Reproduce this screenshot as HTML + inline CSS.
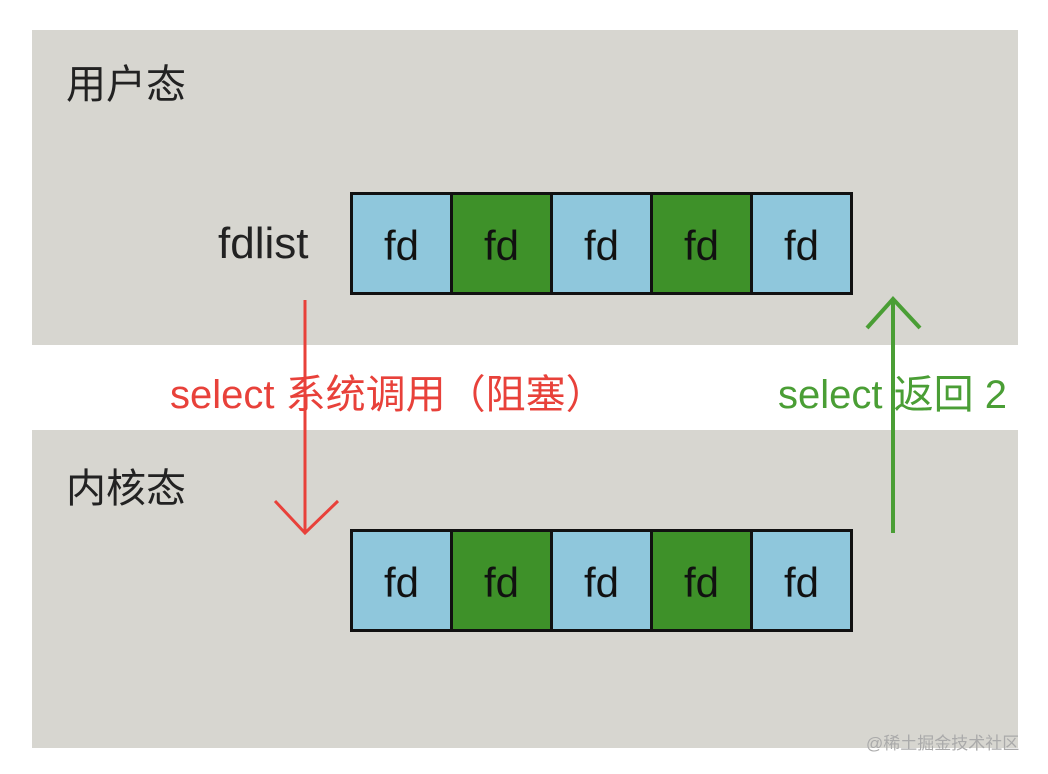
<!DOCTYPE html>
<html><head><meta charset="utf-8"><style>
body{margin:0;width:1048px;height:774px;background:#fff;position:relative;overflow:hidden;font-family:"Liberation Sans","Noto Sans CJK SC",sans-serif}
.p{position:absolute;background:#d7d6d0;left:32px;width:986px}
.t{position:absolute;white-space:nowrap;line-height:1}
.row{position:absolute;left:350px;width:497px;height:97px;display:flex;border:3px solid #111;background:#111;gap:3px}
.row div{flex:1;display:flex;align-items:center;justify-content:center;font-size:42px;color:#111;padding-top:4px}
.b{background:#8fc7dc}.g{background:#3e9129}
</style></head><body>
<div class="p" style="top:30px;height:315px"></div>
<div class="p" style="top:430px;height:318px"></div>
<div class="t" style="left:66px;top:65px;font-size:40px;color:#222">用户态</div>
<div class="t" style="left:66px;top:469px;font-size:40px;color:#222">内核态</div>
<div class="t" style="left:218px;top:222px;font-size:44px;color:#222">fdlist</div>
<div class="row" style="top:192px"><div class="b">fd</div><div class="g">fd</div><div class="b">fd</div><div class="g">fd</div><div class="b">fd</div></div>
<div class="row" style="top:529px"><div class="b">fd</div><div class="g">fd</div><div class="b">fd</div><div class="g">fd</div><div class="b">fd</div></div>
<div class="t" style="left:170px;top:375px;font-size:40px;color:#e8413a">select 系统调用（阻塞）</div>
<div class="t" style="left:778px;top:375px;font-size:40px;color:#4a9e35">select 返回 2</div>
<svg width="1048" height="774" style="position:absolute;left:0;top:0">
<g stroke="#e8413a" stroke-width="3" fill="none"><line x1="305" y1="300" x2="305" y2="533"/><polyline points="275,501 305,533 338,501"/></g>
<g stroke="#4a9e35" stroke-width="4" fill="none"><line x1="893" y1="533" x2="893" y2="299"/><polyline points="867,328 893,299 920,328"/></g>
<text x="866" y="749" font-size="17" fill="#aaa" font-family="Liberation Sans,Noto Sans CJK SC,sans-serif">@稀土掘金技术社区</text>
</svg>
</body></html>
